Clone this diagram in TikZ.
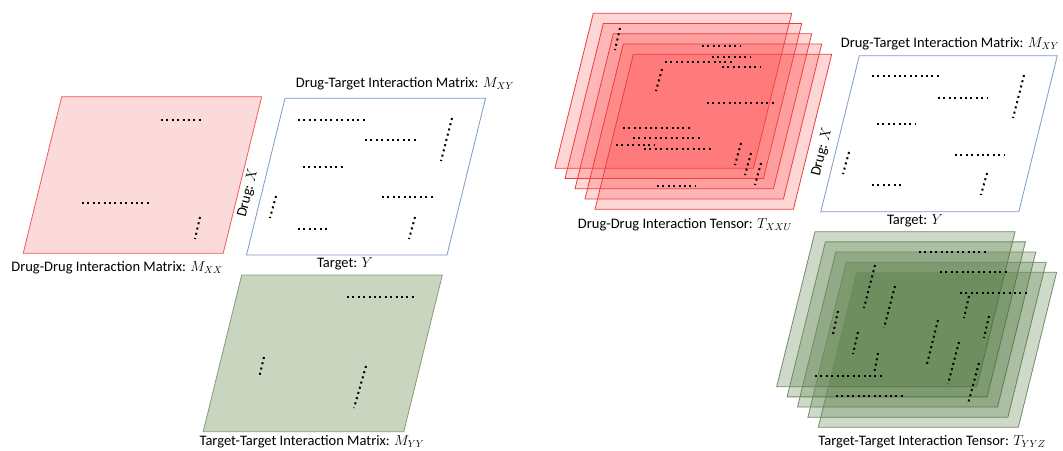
\documentclass[tikz,border=0pt]{standalone}
\usepackage{fontspec}
\setmainfont{Carlito}
\definecolor{pinkfill}{RGB}{252,218,218}
\definecolor{pinkline}{RGB}{240,90,90}
\definecolor{blueline}{RGB}{125,155,200}
\definecolor{greenfill}{RGB}{201,213,190}
\definecolor{greenline}{RGB}{135,155,120}
\definecolor{tredfill}{RGB}{255,70,70}
\definecolor{tredline}{RGB}{235,60,60}
\definecolor{tgreenfill}{RGB}{70,110,50}
\definecolor{tgreenline}{RGB}{110,140,95}
\newcommand{\pgram}[5][]{\draw[#1] (#2,#3) -- ++(#4,0) -- ++(-38.5,#5) -- ++(-#4,0) -- cycle;}
\tikzset{
  dots/.style={line width=2pt, dash pattern=on 2pt off 3.4pt},
  lbl/.style={font=\fontsize{14.5}{16}\selectfont, inner sep=0pt},
  mpink/.style={draw=pinkline, fill=pinkfill, line width=0.8pt},
  mblue/.style={draw=blueline, fill=white, line width=0.8pt},
  mgreen/.style={draw=greenline, fill=greenfill, line width=0.8pt},
  tred/.style={draw=tredline, fill=tredfill, fill opacity=0.22, line width=0.8pt},
  tgreen/.style={draw=tgreenline, fill=tgreenfill, fill opacity=0.26, line width=0.8pt},
}
\begin{document}
\begin{tikzpicture}[x=1pt,y=-1pt]
\useasboundingbox (0,0) rectangle (1063,450);
% ---------- left side ----------
\pgram[mpink]{61.7}{96.7}{200}{156.6}
\draw[dots] (161,120) -- (201,120);
\draw[dots] (82,203) -- (151,203);
\draw[dots] (200,217) -- (195,239);

\pgram[mblue]{285}{98.3}{200.5}{156.7}
\draw[dots] (298,120) -- (366,120);
\draw[dots] (365,140) -- (416,140);
\draw[dots] (452,118) -- (441,161);
\draw[dots] (303,167) -- (343,167);
\draw[dots] (382,197) -- (433,197);
\draw[dots] (276,196) -- (270,218);
\draw[dots] (298,229) -- (328,229);
\draw[dots] (415,217) -- (409,239);

\pgram[mgreen]{241.7}{275}{200.6}{156.7}
\draw[dots] (347,297) -- (414,297);
\draw[dots] (264,357) -- (259,378);
\draw[dots] (366,366) -- (354,408);

\node[lbl] (mxxlabel) at (117,268) {Drug-Drug Interaction Matrix: $M_{XX}$};
\node[lbl] (mxylabel) at (405,84) {Drug-Target Interaction Matrix: $M_{XY}$};
\node[lbl, rotate=76] (drugx) at (248,193) {Drug: $X$};
\node[lbl] (targety) at (345,264) {Target: $Y$};
\node[lbl] (myylabel) at (312,442) {Target-Target Interaction Matrix: $M_{YY}$};

% ---------- right side: red tensor ----------
\foreach \i in {0,...,4} {
  \draw[tred] (593.3+10*\i,13.3+10.25*\i) -- ++(198.4,0) -- ++(-38.3,155) -- ++(-198.4,0) -- cycle;
}
\draw[dots] (620,28) -- (615,50);
\draw[dots] (702,46) -- (741,46);
\draw[dots] (712,57) -- (751,57);
\draw[dots] (665,62) -- (733,62);
\draw[dots] (722,67) -- (761,67);
\draw[dots] (662,69) -- (656,91);
\draw[dots] (707,103) -- (774,103);
\draw[dots] (623,128) -- (691,128);
\draw[dots] (633,138) -- (701,138);
\draw[dots] (616,145) -- (654,145);
\draw[dots] (644,149) -- (712,149);
\draw[dots] (741,143) -- (735,165);
\draw[dots] (751,153) -- (745,175);
\draw[dots] (761,163) -- (755,185);
\draw[dots] (657,186) -- (696,186);
\node[lbl] (txxulabel) at (685,225) {Drug-Drug Interaction Tensor: $T_{XXU}$};

% ---------- right side: blue matrix ----------
\pgram[mblue]{859.3}{55.7}{198}{156}
\draw[dots] (872,76) -- (939,76);
\draw[dots] (938,98) -- (988,98);
\draw[dots] (1024,75) -- (1013,118);
\draw[dots] (877,124) -- (916,124);
\draw[dots] (955,155) -- (1004,155);
\draw[dots] (849,152) -- (843,174);
\draw[dots] (872,185) -- (901,185);
\draw[dots] (987,173) -- (981,195);
\node[lbl] (mxylabel2) at (950,44) {Drug-Target Interaction Matrix: $M_{XY}$};
\node[lbl, rotate=76] (drugx2) at (822,152) {Drug: $X$};
\node[lbl] (targety2) at (915,221) {Target: $Y$};

% ---------- right side: green tensor ----------
\foreach \i in {0,...,4} {
  \draw[tgreen] (815+10.4*\i,231.7+10.15*\i) -- ++(200,0) -- ++(-38.3,155) -- ++(-200,0) -- cycle;
}
\draw[dots] (919,252) -- (988,252);
\draw[dots] (940,272) -- (1008,272);
\draw[dots] (960,293) -- (1028,293);
\draw[dots] (875,265) -- (864,308);
\draw[dots] (895,286) -- (884,328);
\draw[dots] (969,296) -- (964,318);
\draw[dots] (838,311) -- (833,334);
\draw[dots] (858,332) -- (853,354);
\draw[dots] (989,316) -- (984,338);
\draw[dots] (938,320) -- (927,364);
\draw[dots] (959,342) -- (948,384);
\draw[dots] (878,353) -- (874,374);
\draw[dots] (815,376) -- (883,376);
\draw[dots] (836,396) -- (904,396);
\draw[dots] (979,363) -- (968,404);
\node[lbl] (tyyzlabel) at (932,442) {Target-Target Interaction Tensor: $T_{YYZ}$};
\end{tikzpicture}
\end{document}
